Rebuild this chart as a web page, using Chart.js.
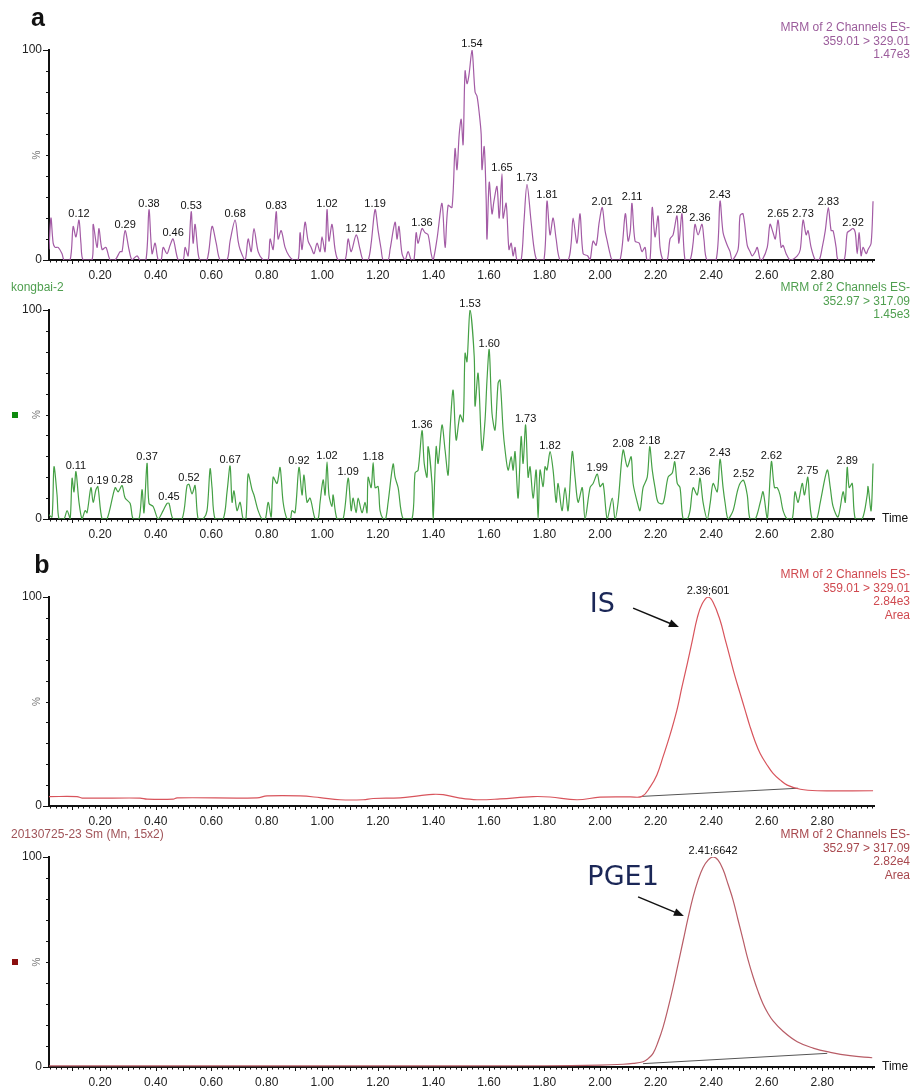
<!DOCTYPE html>
<html><head><meta charset="utf-8">
<script src="https://cdn.jsdelivr.net/npm/chart.js@4/dist/chart.umd.min.js"></script>
<style>
html,body{margin:0;padding:0;background:#fff;}
body{width:912px;height:1087px;position:relative;overflow:hidden;}
canvas{position:absolute;left:0;}
</style></head><body>
<canvas id="cA1" width="912" height="290" style="top:0px"></canvas>
<canvas id="cA2" width="912" height="265" style="top:280px"></canvas>
<canvas id="cB1" width="912" height="290" style="top:545px"></canvas>
<canvas id="cB2" width="912" height="262" style="top:825px"></canvas>
<script>
// ---- axis ----
const X_MIN = 0.016, X_MAX = 2.99;
const xTickValues = [0.2,0.4,0.6,0.8,1.0,1.2,1.4,1.6,1.8,2.0,2.2,2.4,2.6,2.8];
const yTickValues = [0, 100];

// ---- panel a, top: 359.01 > 329.01 (time, %) ----
const a1Trace = [[0.016,5],[0.023,20],[0.031,8],[0.038,6],[0.049,6],[0.063,3],[0.070,0],[0.092,0],[0.103,16],[0.113,11],[0.124,19],[0.131,8],[0.139,0],[0.171,0],[0.175,17],[0.189,6],[0.196,15],[0.207,5],[0.221,6],[0.236,0],[0.254,0],[0.272,4],[0.279,4],[0.290,14],[0.304,5],[0.315,0],[0.333,2],[0.344,0],[0.365,0],[0.376,24],[0.387,3],[0.398,8],[0.409,0],[0.420,0],[0.427,6],[0.441,3],[0.452,7],[0.463,10],[0.481,0],[0.499,0],[0.506,6],[0.517,2],[0.528,23],[0.535,8],[0.542,17],[0.553,3],[0.560,0],[0.585,0],[0.603,16],[0.618,8],[0.632,0],[0.657,0],[0.668,9],[0.686,19],[0.697,9],[0.704,5],[0.722,0],[0.733,10],[0.744,4],[0.754,15],[0.769,4],[0.787,0],[0.805,0],[0.812,10],[0.823,5],[0.834,23],[0.841,10],[0.852,14],[0.866,6],[0.880,2],[0.895,0],[0.913,0],[0.920,13],[0.927,5],[0.938,18],[0.949,9],[0.960,6],[0.970,3],[0.981,8],[0.992,4],[0.999,11],[1.010,4],[1.017,24],[1.024,9],[1.035,17],[1.046,5],[1.057,0],[1.082,0],[1.093,10],[1.104,4],[1.122,12],[1.136,5],[1.147,0],[1.165,0],[1.176,8],[1.190,24],[1.201,14],[1.212,5],[1.219,0],[1.237,0],[1.244,5],[1.262,18],[1.269,10],[1.276,16],[1.287,3],[1.298,0],[1.309,4],[1.320,0],[1.330,0],[1.338,13],[1.345,8],[1.359,15],[1.370,13],[1.381,12],[1.392,3],[1.399,0],[1.413,10],[1.431,27],[1.442,6],[1.453,26],[1.467,25],[1.478,53],[1.485,43],[1.493,60],[1.500,67],[1.507,55],[1.514,90],[1.521,84],[1.528,88],[1.539,100],[1.550,80],[1.557,78],[1.565,70],[1.572,60],[1.575,43],[1.583,54],[1.590,29],[1.593,10],[1.601,37],[1.611,22],[1.618,28],[1.629,35],[1.637,20],[1.647,41],[1.651,20],[1.662,27],[1.672,5],[1.680,8],[1.687,2],[1.694,6],[1.701,0],[1.716,0],[1.726,18],[1.737,36],[1.752,18],[1.762,6],[1.773,0],[1.798,0],[1.809,28],[1.820,12],[1.831,20],[1.842,10],[1.856,0],[1.885,0],[1.896,8],[1.903,20],[1.917,8],[1.928,22],[1.939,3],[1.955,2],[1.964,0],[1.975,9],[1.986,7],[1.997,18],[2.008,25],[2.018,14],[2.026,9],[2.036,3],[2.044,0],[2.072,0],[2.091,22],[2.101,9],[2.109,14],[2.115,27],[2.126,9],[2.141,8],[2.151,4],[2.162,6],[2.169,0],[2.180,0],[2.188,25],[2.198,11],[2.209,21],[2.216,6],[2.227,0],[2.242,0],[2.252,10],[2.263,12],[2.277,21],[2.284,8],[2.295,22],[2.306,0],[2.324,0],[2.335,8],[2.342,17],[2.353,12],[2.367,17],[2.374,10],[2.385,0],[2.418,0],[2.432,28],[2.443,13],[2.458,7],[2.468,4],[2.476,0],[2.497,5],[2.504,21],[2.515,22],[2.530,7],[2.540,4],[2.548,2],[2.559,4],[2.566,6],[2.577,0],[2.584,0],[2.602,6],[2.612,17],[2.623,13],[2.631,10],[2.641,19],[2.652,6],[2.659,7],[2.670,3],[2.685,0],[2.710,2],[2.721,5],[2.731,19],[2.742,12],[2.749,14],[2.760,6],[2.775,0],[2.789,0],[2.800,6],[2.811,14],[2.822,25],[2.832,14],[2.839,14],[2.850,6],[2.857,0],[2.879,0],[2.890,13],[2.900,14],[2.911,15],[2.919,13],[2.926,3],[2.933,13],[2.940,2],[2.947,6],[2.958,3],[2.965,5],[2.976,8],[2.983,28]];
const a1PeakText = ['0.12','0.29','0.38','0.46','0.53','0.68','0.83','1.02','1.12','1.19','1.36','1.54','1.65','1.73','1.81','2.01','2.11','2.28','2.36','2.43','2.65','2.73','2.83','2.92'];
const a1PeakTime = [0.124,0.290,0.376,0.463,0.528,0.686,0.834,1.017,1.122,1.190,1.359,1.539,1.647,1.737,1.809,2.008,2.115,2.277,2.360,2.432,2.641,2.731,2.822,2.911];
const a1PeakPct  = [19,14,24,10,23,19,23,24,12,24,15,100,41,36,28,25,27,21,17,28,19,19,25,15];

// ---- panel a, bottom: kongbai-2, 352.97 > 317.09 ----
const a2Trace = [[0.016,2],[0.027,1],[0.034,25],[0.045,11.5],[0.052,0],[0.070,0],[0.081,4],[0.092,0],[0.099,19.5],[0.106,13],[0.113,22.7],[0.124,8],[0.135,0],[0.146,4],[0.153,3],[0.167,15],[0.175,8],[0.185,14],[0.192,15.5],[0.207,0],[0.225,0],[0.254,15],[0.265,13],[0.279,16],[0.290,10],[0.308,7.5],[0.319,0],[0.340,0],[0.351,14],[0.358,3],[0.369,26.6],[0.376,7.5],[0.391,6],[0.409,0],[0.427,4],[0.441,7.5],[0.448,7.5],[0.463,0],[0.495,0],[0.513,16],[0.520,16.6],[0.531,12],[0.542,16],[0.553,0],[0.571,0],[0.585,4],[0.596,24],[0.603,15],[0.614,0],[0.643,0],[0.657,13],[0.668,25.4],[0.675,8],[0.682,13.5],[0.693,4],[0.704,8],[0.715,0],[0.725,0],[0.733,21.5],[0.747,14],[0.754,11.5],[0.769,4],[0.783,0],[0.795,0],[0.805,8],[0.816,1],[0.823,20],[0.837,17],[0.848,24.7],[0.859,8],[0.873,0],[0.885,0],[0.891,4],[0.902,3],[0.916,24.7],[0.927,11.5],[0.934,21],[0.945,8],[0.956,10],[0.974,0],[0.985,0],[0.992,8],[1.003,18.7],[1.010,11.5],[1.017,27.4],[1.024,11.5],[1.035,6],[1.039,11.5],[1.053,0],[1.075,0],[1.093,19.5],[1.104,4],[1.111,10],[1.122,3],[1.129,10],[1.143,3],[1.154,8],[1.161,3],[1.165,20],[1.176,15],[1.183,27],[1.190,15],[1.201,15.5],[1.208,4],[1.219,0],[1.228,0],[1.237,8],[1.255,26.3],[1.262,20],[1.273,15],[1.291,0],[1.323,0],[1.334,22],[1.345,23.4],[1.359,42.3],[1.367,26.6],[1.377,20],[1.381,34.6],[1.395,17],[1.399,0],[1.410,34.6],[1.417,26.6],[1.431,45],[1.442,33],[1.453,21],[1.460,42.6],[1.471,61.7],[1.482,37.8],[1.496,49.8],[1.507,46.6],[1.514,79.3],[1.521,75.3],[1.532,100],[1.547,77.7],[1.550,54],[1.561,69.7],[1.575,33],[1.586,47.4],[1.593,66.5],[1.601,81],[1.611,50.6],[1.622,42.6],[1.633,65],[1.640,66.5],[1.651,42.6],[1.658,33],[1.669,23.4],[1.680,29.8],[1.687,23.4],[1.694,32.2],[1.705,10],[1.716,39.4],[1.723,26.6],[1.732,45],[1.741,20],[1.748,25],[1.759,10],[1.770,23.4],[1.777,0],[1.784,23.4],[1.795,15.5],[1.802,25],[1.809,23.4],[1.820,32.2],[1.831,23.4],[1.842,8],[1.849,17],[1.863,4],[1.874,15],[1.885,4],[1.900,32.2],[1.910,20],[1.921,8],[1.936,15],[1.946,0],[1.964,15],[1.975,17],[1.990,21.5],[2.000,15.5],[2.011,17],[2.026,0],[2.044,10],[2.054,0],[2.065,8],[2.083,33],[2.098,25],[2.112,29.8],[2.119,17],[2.134,8],[2.144,4],[2.155,15],[2.170,20],[2.179,34.6],[2.188,23.4],[2.198,15],[2.209,8],[2.227,7.5],[2.245,20],[2.260,22],[2.269,27.4],[2.278,17],[2.288,15],[2.299,0],[2.314,0],[2.324,4],[2.335,15],[2.350,11.5],[2.360,19.5],[2.371,8],[2.386,0],[2.397,8],[2.407,17],[2.422,13],[2.432,28.6],[2.443,15],[2.450,8],[2.461,0],[2.479,4],[2.494,13],[2.504,17],[2.517,18.5],[2.530,11.5],[2.540,0],[2.559,0],[2.577,8],[2.587,13],[2.602,0],[2.617,27.4],[2.628,15],[2.638,15],[2.648,11.5],[2.659,4],[2.674,0],[2.692,0],[2.702,13],[2.713,8],[2.728,17],[2.736,11.5],[2.748,20],[2.755,8],[2.764,0],[2.780,0],[2.793,8],[2.818,23.4],[2.829,15],[2.839,6],[2.857,1],[2.875,13],[2.883,8],[2.890,24.7],[2.897,15],[2.908,17],[2.919,0],[2.944,0],[2.962,11.5],[2.965,15.5],[2.976,4],[2.983,26.6]];
const a2PeakText = ['0.11','0.19','0.28','0.37','0.45','0.52','0.67','0.92','1.02','1.09','1.18','1.36','1.53','1.60','1.73','1.82','1.99','2.08','2.18','2.27','2.36','2.43','2.52','2.62','2.75','2.89'];
const a2PeakTime = [0.113,0.192,0.279,0.369,0.448,0.520,0.668,0.916,1.017,1.093,1.183,1.359,1.532,1.601,1.732,1.820,1.990,2.083,2.179,2.269,2.360,2.432,2.517,2.617,2.748,2.890];
const a2PeakPct  = [22.7,15.5,16,26.6,7.5,16.6,25.4,24.7,27.4,19.5,27,42.3,100,81,45,32.2,21.5,33,34.6,27.4,19.5,28.6,18.5,27.4,20,24.7];

// ---- panel b, top: IS 359.01 > 329.01 ----
const b1Trace = [[0.016,4.5],[0.117,4.5],[0.135,3.8],[0.344,3.8],[0.369,3.3],[0.463,3.3],[0.477,3.9],[0.765,3.9],[0.801,4.8],[0.920,4.8],[0.992,4.0],[1.064,3.0],[1.147,3.0],[1.183,3.6],[1.280,3.9],[1.352,5.0],[1.399,5.6],[1.435,5.4],[1.496,3.8],[1.557,3.0],[1.640,3.4],[1.759,4.5],[1.820,4.3],[1.917,3.0],[2.000,4.2],[2.108,4.4],[2.151,4.6],[2.180,9],[2.205,15],[2.227,23.6],[2.252,34],[2.277,46],[2.295,57],[2.314,68],[2.332,79],[2.350,90],[2.367,96.5],[2.389,100],[2.407,97.5],[2.432,89],[2.450,80],[2.468,71],[2.486,62],[2.504,54],[2.522,46],[2.540,38],[2.558,31],[2.577,25],[2.602,19.5],[2.623,15.6],[2.648,12.5],[2.674,10],[2.721,8],[2.782,7.3],[2.983,7.3]];
const b1Baseline = [[2.151,4.6],[2.713,8.5]];
const b1PeakText = ['2.39;601'];
const b1PeakTime = [2.389];
const b1PeakPct = [100];

// ---- panel b, bottom: PGE1 352.97 > 317.09 ----
const b2Trace = [[0.016,0.5],[1.0,0.5],[1.8,0.6],[2.000,0.9],[2.083,1.3],[2.119,1.7],[2.155,2.5],[2.173,4],[2.191,6.5],[2.209,12],[2.227,19],[2.245,28],[2.263,38],[2.281,49],[2.299,60],[2.317,71],[2.335,81],[2.353,89],[2.371,95],[2.389,98.5],[2.407,100],[2.425,98.5],[2.443,94],[2.461,87],[2.479,79.5],[2.497,70],[2.515,60.5],[2.533,51],[2.551,43],[2.569,36],[2.587,30],[2.605,25.5],[2.623,22],[2.659,17],[2.710,12],[2.767,9],[2.829,7],[2.900,5.4],[2.980,4.4]];
const b2Baseline = [[2.155,1.6],[2.818,6.5]];
const b2PeakText = ['2.41;6642'];
const b2PeakTime = [2.407];
const b2PeakPct = [100];

// ---- header texts ----
const a1Header = ['MRM of 2 Channels ES-','359.01 > 329.01','1.47e3'];
const a2Header = ['MRM of 2 Channels ES-','352.97 > 317.09','1.45e3'];
const b1Header = ['MRM of 2 Channels ES-','359.01 > 329.01','2.84e3','Area'];
const b2Header = ['MRM of 2 Channels ES-','352.97 > 317.09','2.82e4','Area'];

const FONT = "'Liberation Sans', Arial, sans-serif";
Chart.defaults.font.family = FONT;

const toXY = arr => arr.map(p => ({x: p[0], y: p[1]}));

const decorPlugin = {
  id: 'decor',
  beforeDatasetsDraw(chart) {
    const {ctx, chartArea: ca, scales: {x, y}} = chart;
    ctx.save();
    ctx.strokeStyle = '#111';
    ctx.lineWidth = 1;
    for (let v = 0; v <= 100; v += 10) {
      const py = Math.round(y.getPixelForValue(v)) + 0.5;
      const len = (v === 0 || v === 100) ? 6 : 3;
      ctx.beginPath(); ctx.moveTo(ca.left - len, py); ctx.lineTo(ca.left, py); ctx.stroke();
    }
    for (let i = 1; i < 150; i++) {
      const v = i * 0.02;
      if (v < x.min || v > x.max) continue;
      const px = Math.round(x.getPixelForValue(v)) + 0.5;
      const len = (i % 5 === 0) ? 4 : 2.5;
      ctx.beginPath(); ctx.moveTo(px, ca.bottom); ctx.lineTo(px, ca.bottom + len); ctx.stroke();
    }
    ctx.lineWidth = 2;
    ctx.beginPath();
    ctx.moveTo(ca.left, ca.top - 1);
    ctx.lineTo(ca.left, ca.bottom);
    ctx.lineTo(ca.right, ca.bottom);
    ctx.stroke();
    ctx.restore();
  },
  afterDraw(chart, args, o) {
    const {ctx, chartArea: ca, scales: {x, y}} = chart;
    ctx.save();
    ctx.save();
    ctx.translate(ca.left - 12, y.getPixelForValue(50));
    ctx.rotate(-Math.PI / 2);
    ctx.fillStyle = '#777';
    ctx.font = '10px ' + FONT;
    ctx.textAlign = 'center'; ctx.textBaseline = 'middle';
    ctx.fillText('%', 0, 0);
    ctx.restore();
    ctx.font = '12px ' + FONT;
    ctx.fillStyle = o.headerColor;
    ctx.textAlign = 'right'; ctx.textBaseline = 'middle';
    o.header.forEach((t, i) => ctx.fillText(t, chart.width - 2, ca.top - 22 + 13.5 * i));
    if (o.sample) {
      ctx.textAlign = 'left';
      ctx.fillStyle = o.sampleColor;
      ctx.fillText(o.sample, 11, ca.top - 22);
    }
    if (o.marker) {
      ctx.fillStyle = o.marker;
      ctx.fillRect(12, Math.round(y.getPixelForValue(50)) - 3, 6, 6);
    }
    if (o.letter) {
      ctx.fillStyle = '#111';
      ctx.font = 'bold 25px ' + FONT;
      ctx.textAlign = 'center'; ctx.textBaseline = 'alphabetic';
      ctx.fillText(o.letter, o.letterX, ca.top - 24);
    }
    ctx.fillStyle = '#111';
    ctx.font = '11px ' + FONT;
    ctx.textAlign = 'center'; ctx.textBaseline = 'alphabetic';
    o.peakText.forEach((t, i) => {
      ctx.fillText(t, x.getPixelForValue(o.peakTime[i]), y.getPixelForValue(o.peakPct[i]) - 3);
    });
    if (o.timeLabel) {
      ctx.font = '12px ' + FONT;
      ctx.textAlign = 'left'; ctx.textBaseline = 'middle';
      ctx.fillStyle = '#111';
      ctx.fillText('Time', ca.right + 7, ca.bottom);
    }
    if (o.note) {
      const n = o.note;
      ctx.fillStyle = '#1b2757';
      ctx.font = "27px 'DejaVu Sans', Verdana, sans-serif";
      ctx.textAlign = 'center'; ctx.textBaseline = 'middle';
      ctx.fillText(n.text, x.getPixelForValue(n.at[0]), y.getPixelForValue(n.at[1]));
      const x0 = x.getPixelForValue(n.from[0]), y0 = y.getPixelForValue(n.from[1]);
      const x1 = x.getPixelForValue(n.to[0]), y1 = y.getPixelForValue(n.to[1]);
      const ang = Math.atan2(y1 - y0, x1 - x0);
      ctx.strokeStyle = '#111'; ctx.lineWidth = 1.5;
      ctx.beginPath(); ctx.moveTo(x0, y0);
      ctx.lineTo(x1 - 8 * Math.cos(ang), y1 - 8 * Math.sin(ang)); ctx.stroke();
      ctx.fillStyle = '#111';
      ctx.beginPath();
      ctx.moveTo(x1, y1);
      ctx.lineTo(x1 - 10 * Math.cos(ang) + 4 * Math.sin(ang), y1 - 10 * Math.sin(ang) - 4 * Math.cos(ang));
      ctx.lineTo(x1 - 10 * Math.cos(ang) - 4 * Math.sin(ang), y1 - 10 * Math.sin(ang) + 4 * Math.cos(ang));
      ctx.closePath(); ctx.fill();
    }
    ctx.restore();
  }
};

function makeChart(id, cfg) {
  return new Chart(document.getElementById(id), {
    type: 'line',
    data: { datasets: cfg.datasets },
    options: {
      responsive: false, animation: false, devicePixelRatio: 1,
      layout: { padding: { left: 0, right: 37, top: cfg.padTop, bottom: 0 } },
      plugins: { legend: { display: false }, tooltip: { enabled: false }, decor: cfg.decor },
      elements: { point: { radius: 0 }, line: { tension: 0, borderWidth: 1.1 } },
      scales: {
        x: {
          type: 'linear', min: X_MIN, max: X_MAX,
          afterFit(s) { s.height = cfg.xHeight; },
          afterBuildTicks(s) { s.ticks = xTickValues.map(v => ({ value: v })); },
          grid: { display: false, drawTicks: false }, border: { display: false },
          ticks: { padding: 8, font: { size: 12 }, color: '#222', autoSkip: false, maxRotation: 0,
                   callback: v => Number(v).toFixed(2) }
        },
        y: {
          min: 0, max: 100,
          afterFit(s) { s.width = 49; },
          afterBuildTicks(s) { s.ticks = yTickValues.map(v => ({ value: v })); },
          grid: { display: false, drawTicks: false }, border: { display: false },
          ticks: { padding: 7, font: { size: 12 }, color: '#222', autoSkip: false }
        }
      }
    },
    plugins: [decorPlugin]
  });
}

makeChart('cA1', {
  padTop: 50, xHeight: 30,
  datasets: [{ data: toXY(a1Trace), borderColor: '#a35ba5', borderWidth: 1.2, tension: 0.3 }],
  decor: { header: a1Header, headerColor: '#9b5c9b', letter: 'a', letterX: 38,
           peakText: a1PeakText, peakTime: a1PeakTime, peakPct: a1PeakPct }
});
makeChart('cA2', {
  padTop: 30, xHeight: 26,
  datasets: [{ data: toXY(a2Trace), borderColor: '#45a045', borderWidth: 1.2, tension: 0.3 }],
  decor: { header: a2Header, headerColor: '#4f9f4f', sample: 'kongbai-2', sampleColor: '#4f9f4f',
           marker: '#0e8a0e', timeLabel: true,
           peakText: a2PeakText, peakTime: a2PeakTime, peakPct: a2PeakPct }
});
makeChart('cB1', {
  padTop: 52, xHeight: 29,
  datasets: [
    { data: toXY(b1Trace), borderColor: '#d8545c', borderWidth: 1.2, tension: 0.4 },
    { data: toXY(b1Baseline), borderColor: '#555', borderWidth: 1 }
  ],
  decor: { header: b1Header, headerColor: '#d04a50', letter: 'b', letterX: 42,
           peakText: b1PeakText, peakTime: b1PeakTime, peakPct: b1PeakPct,
           note: { text: 'IS', at: [2.008, 96], from: [2.119, 94.7], to: [2.284, 85.6] } }
});
makeChart('cB2', {
  padTop: 32, xHeight: 20,
  datasets: [
    { data: toXY(b2Trace), borderColor: '#b85c66', borderWidth: 1.2, tension: 0.4 },
    { data: toXY(b2Baseline), borderColor: '#555', borderWidth: 1 }
  ],
  decor: { header: b2Header, headerColor: '#a8484e', sample: '20130725-23 Sm (Mn, 15x2)', sampleColor: '#a05358',
           marker: '#8b0f0f', timeLabel: true,
           peakText: b2PeakText, peakTime: b2PeakTime, peakPct: b2PeakPct,
           note: { text: 'PGE1', at: [2.083, 90], from: [2.137, 81], to: [2.302, 71.9] } }
});
</script>
</body></html>
